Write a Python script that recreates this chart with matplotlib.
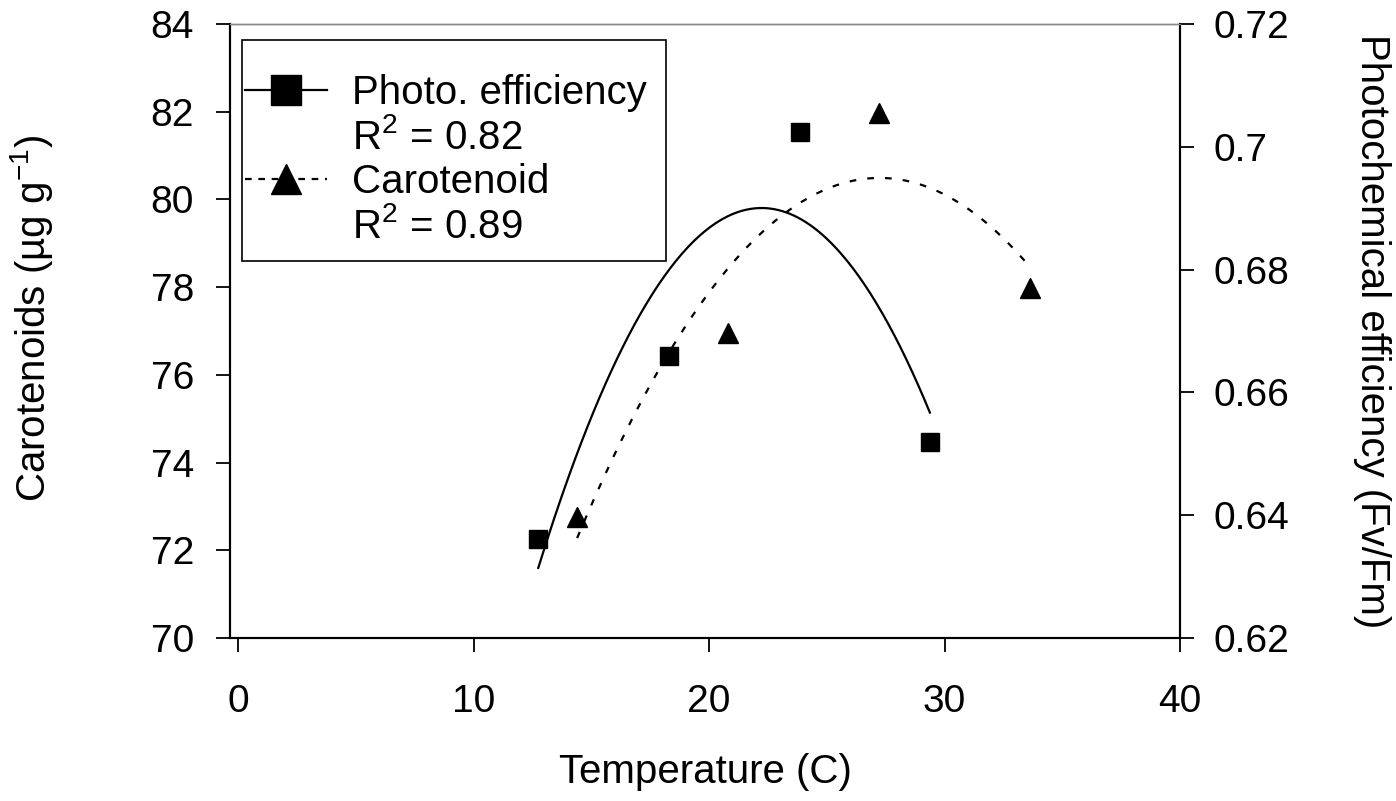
import numpy as np
import matplotlib
matplotlib.use("Agg")
import matplotlib.pyplot as plt
from matplotlib.patches import Rectangle
from matplotlib.ticker import FuncFormatter

plt.rcParams['font.family'] = ['Liberation Sans', 'DejaVu Sans']
plt.rcParams['mathtext.fontset'] = 'custom'
plt.rcParams['mathtext.rm'] = 'Liberation Sans'
plt.rcParams['mathtext.it'] = 'Liberation Sans:italic'

# photochemical efficiency (Fv/Fm), right axis
temp_pe = [12.75, 18.3, 23.85, 29.38]
photo_eff = [0.6361, 0.6659, 0.7024, 0.6520]
# carotenoids, left axis
temp_car = [14.4, 20.8, 27.2, 33.63]
carotenoid = [72.77, 76.95, 81.96, 77.97]

xticks = [0, 10, 20, 30, 40]
left_ticks = [70, 72, 74, 76, 78, 80, 82, 84]
right_ticks = [0.62, 0.64, 0.66, 0.68, 0.70, 0.72]

fig = plt.figure(figsize=(13.96, 8.01), dpi=100)
ax = fig.add_axes([230/1396, 1 - 638/801, 950/1396, 614/801])
ax2 = ax.twinx()

# quadratic trend lines (as in the original fits)
c1 = np.polyfit(temp_pe, photo_eff, 2)
xs1 = np.linspace(min(temp_pe), max(temp_pe), 200)
c2 = np.polyfit(temp_car, carotenoid, 2)
xs2 = np.linspace(min(temp_car), max(temp_car), 200)

ax2.plot(xs1, np.polyval(c1, xs1), color='black', lw=1.6)
ax.plot(xs2, np.polyval(c2, xs2), color='black', lw=1.6, ls=(0, (3, 5)))

ax2.plot(temp_pe, photo_eff, ls='none', marker='s', ms=13, color='black')
ax.plot(temp_car, carotenoid, ls='none', marker='^', ms=14, color='black')

# legend
h1, = ax.plot([], [], color='black', lw=1.6, marker='s', ms=21)
h2, = ax.plot([], [], color='black', lw=1.6, ls=(0, (3, 3)), marker='^', ms=21)
hb, = ax.plot([], [], color='none')
leg = ax.legend([h1, hb, h2, hb],
                ['Photo. efficiency', 'R$^2$ = 0.82', 'Carotenoid', 'R$^2$ = 0.89'],
                loc='upper left', bbox_to_anchor=(0.0158, 0.9186), borderaxespad=0,
                fontsize=29, frameon=False, handlelength=2.03, handletextpad=0.62,
                labelspacing=0.15, borderpad=0)
ax.add_patch(Rectangle((0.01263, 0.614), 0.4463, 0.3599, transform=ax.transAxes,
                       fill=False, edgecolor='black', lw=1.2, zorder=5))

ax.set_xlim(-0.34, 40)
ax.set_ylim(70, 84)
ax2.set_ylim(0.62, 0.72)
ax.set_xticks(xticks)
ax.set_yticks(left_ticks)
ax2.set_yticks(right_ticks)
ax2.yaxis.set_major_formatter(FuncFormatter(lambda v, p: '%g' % round(v, 2)))

for a in (ax, ax2):
    a.tick_params(labelsize=28, length=10, width=1.3, direction='out')
    for s in a.spines.values():
        s.set_linewidth(1.5)
    a.spines['top'].set_color('#888888')
    a.spines['top'].set_linewidth(1.0)
ax.tick_params(axis='y', pad=16)
ax.tick_params(axis='x', pad=23)
ax2.tick_params(axis='y', pad=14)

ax.set_xlabel('Temperature (C)', fontsize=29)
ax.set_ylabel('Carotenoids (µg g$^{-1}$)', fontsize=29)
ax2.set_ylabel('Photochemical efficiency (Fv/Fm)', fontsize=29, rotation=270)
ax.xaxis.set_label_coords(0.5, -0.187)
ax.yaxis.set_label_coords(-0.184, 0.521)
ax2.yaxis.set_label_coords(1.222, 0.5)

fig.savefig('out.png', dpi=100)
